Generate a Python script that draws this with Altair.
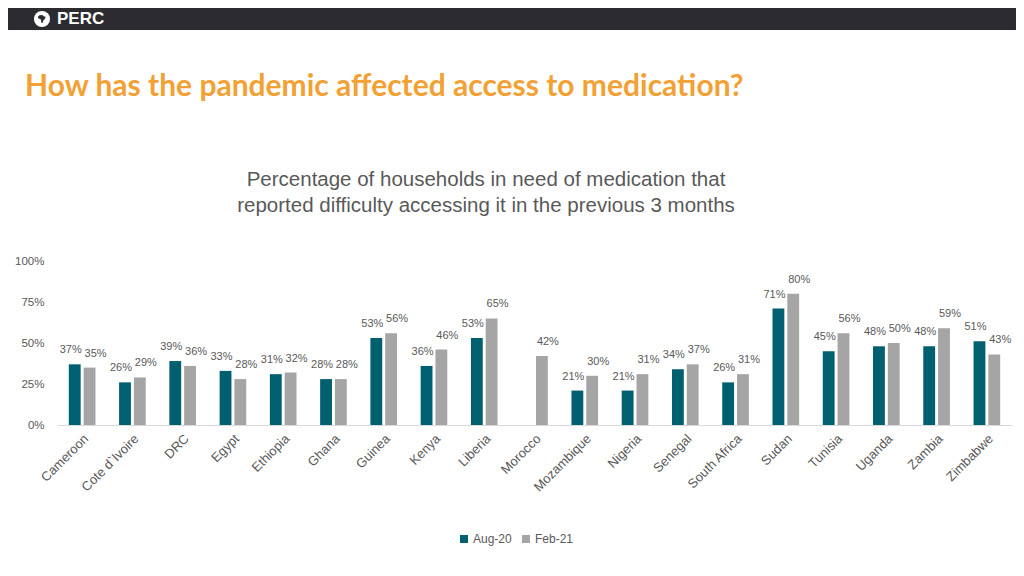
import altair as alt
import pandas as pd

countries = ["Cameroon", "Cote d`Ivoire", "DRC", "Egypt", "Ethiopia", "Ghana", "Guinea",
             "Kenya", "Liberia", "Morocco", "Mozambique", "Nigeria", "Senegal",
             "South Africa", "Sudan", "Tunisia", "Uganda", "Zambia", "Zimbabwe"]
aug20 = [0.37, 0.26, 0.39, 0.33, 0.31, 0.28, 0.53, 0.36, 0.53, None, 0.21, 0.21, 0.34,
         0.26, 0.71, 0.45, 0.48, 0.48, 0.51]
feb21 = [0.35, 0.29, 0.36, 0.28, 0.32, 0.28, 0.56, 0.46, 0.65, 0.42, 0.30, 0.31, 0.37,
         0.31, 0.80, 0.56, 0.50, 0.59, 0.43]
series = ["Aug-20", "Feb-21"]
colors = ["#00606F", "#A5A5A5"]
y_ticks = [0, 0.25, 0.5, 0.75, 1.0]

title_text = "How has the pandemic affected access to medication?"
subtitle_lines = ["Percentage of households in need of medication that",
                  "reported difficulty accessing it in the previous 3 months"]

rows = []
for c, a, f in zip(countries, aug20, feb21):
    if a is not None:
        rows.append({"country": c, "series": series[0], "value": a})
    rows.append({"country": c, "series": series[1], "value": f})
df = pd.DataFrame(rows)

W, H = 955, 164
PL, PT, PR, PB = 49, 253, 4, 130
GREY = "#595959"

x_enc = alt.X("country:N", sort=countries,
              scale=alt.Scale(paddingInner=0.47, paddingOuter=0.235),
              axis=alt.Axis(title=None, labelAngle=-45, labelFontSize=13, labelColor=GREY,
                            ticks=False, domainColor="#D9D9D9", domainWidth=1,
                            labelPadding=7))
xo_enc = alt.XOffset("series:N", sort=series, scale=alt.Scale(paddingInner=0.2))
y_enc = alt.Y("value:Q", scale=alt.Scale(domain=[0, 1]),
              axis=alt.Axis(values=y_ticks, format="%", grid=False, domain=False,
                            ticks=False, title=None, labelPadding=13, labelFontSize=11.5,
                            labelColor=GREY))

base = alt.Chart(df)
bars = base.mark_bar().encode(
    x=x_enc, xOffset=xo_enc, y=y_enc,
    color=alt.Color("series:N", sort=series,
                    scale=alt.Scale(domain=series, range=colors),
                    legend=alt.Legend(orient="none", legendX=401, legendY=272,
                                      direction="horizontal", title=None,
                                      symbolType="square", symbolSize=64,
                                      symbolStrokeWidth=0, labelFontSize=12,
                                      labelColor=GREY, columnPadding=8, labelOffset=3)),
)

lab_aug = base.transform_filter(alt.datum.series == series[0]).mark_text(
    fontSize=11, color=GREY, dy=-9, dx=-4, baseline="bottom").encode(
    x=x_enc, xOffset=xo_enc, y=y_enc, text=alt.Text("value:Q", format=".0%"))
lab_feb = base.transform_filter(alt.datum.series == series[1]).mark_text(
    fontSize=11, color=GREY, dy=-9, dx=6, baseline="bottom").encode(
    x=x_enc, xOffset=xo_enc, y=y_enc, text=alt.Text("value:Q", format=".0%"))

one = pd.DataFrame({"k": [0]})
header = alt.Chart(one).mark_rect(color="#2B2B30").encode(
    x=alt.value(-PL), x2=alt.value(W + PR), y=alt.value(-PT), y2=alt.value(-PT + 22))
logo = alt.Chart(one).mark_point(filled=True, color="white", size=260, opacity=1).encode(
    x=alt.value(-15), y=alt.value(-242))
africa = alt.Chart(one).mark_point(
    filled=True, color="#2B2B30", size=100, opacity=1,
    shape="M-0.5,-0.75 L0.1,-0.8 L0.3,-0.55 L0.75,-0.45 L0.55,0 L0.25,0.3 L0.15,0.75 L-0.1,0.8 L-0.2,0.3 L-0.3,0 L-0.75,-0.1 L-0.8,-0.45 Z"
).encode(x=alt.value(-15), y=alt.value(-242))
perc = alt.Chart(pd.DataFrame({"t": ["PERC"]})).mark_text(
    fontSize=17, fontWeight="bold", color="white", align="left", baseline="middle",
    font="Liberation Sans").encode(x=alt.value(0), y=alt.value(-242), text="t:N")

title = alt.Chart(pd.DataFrame({"t": [title_text]})).mark_text(
    fontSize=30, fontWeight="bold", color="#F2A134", align="left", baseline="middle",
    font="Lato").encode(x=alt.value(-32), y=alt.value(-174), text="t:N")
sub = alt.Chart(pd.DataFrame({"t": [subtitle_lines]})).mark_text(
    fontSize=20.5, color=GREY, align="center", baseline="middle", lineHeight=26,
    font="Liberation Sans").encode(x=alt.value(429), y=alt.value(-81), text="t:N")

chart = alt.layer(header, logo, africa, perc, title, sub, bars, lab_aug, lab_feb).properties(
    width=W, height=H,
    padding={"left": PL, "top": PT, "right": PR, "bottom": PB},
    autosize=alt.AutoSizeParams(type="none"),
).configure(font="Liberation Sans", view=alt.ViewConfig(stroke=None))

chart.save("out.html", embed_options={"renderer": "svg", "actions": False})
